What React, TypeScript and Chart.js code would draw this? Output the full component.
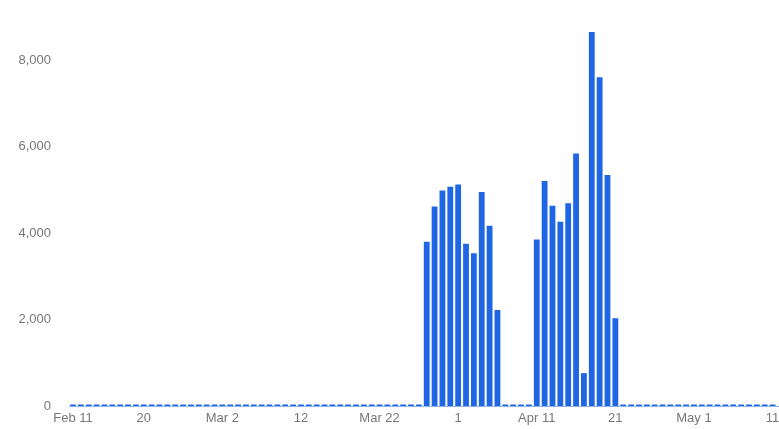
import React, { useEffect, useRef } from "react";
import { Chart, registerables } from "chart.js";

Chart.register(...registerables);

// Day index 0 = Feb 11, index 89 = May 11
const tickDays = [0, 9, 19, 29, 39, 49, 59, 69, 79, 89];
const tickLabels = ["Feb 11", "20", "Mar 2", "12", "Mar 22", "1", "Apr 11", "21", "May 1", "11"];
const yTicks = [0, 2000, 4000, 6000, 8000];

// Daily values Feb 11 .. May 11
const dailyValues = [
  0, 0, 0, 0, 0, 0, 0, 0, 0, 0, // Feb 11-20
  0, 0, 0, 0, 0, 0, 0, 0, 0, 0, // Feb 21-Mar 2
  0, 0, 0, 0, 0, 0, 0, 0, 0, 0, // Mar 3-12
  0, 0, 0, 0, 0, 0, 0, 0, 0, 0, // Mar 13-22
  0, 0, 0, 0, 0, 3800, 4610, 4980, 5070, 5120, // Mar 23-Apr 1
  3750, 3530, 4950, 4170, 2220, 0, 0, 0, 0, 3850, // Apr 2-11
  5200, 4630, 4260, 4690, 5840, 760, 8650, 7600, 5340, 2030, // Apr 12-21
  0, 0, 0, 0, 0, 0, 0, 0, 0, 0, // Apr 22-May 1
  0, 0, 0, 0, 0, 0, 0, 0, 0, 0, // May 2-11
];

export default function App() {
  const ref = useRef<HTMLCanvasElement>(null);
  useEffect(() => {
    if (!ref.current) return;
    const font = { family: "'Liberation Sans', Arial, sans-serif", size: 13 };
    const chart = new Chart(ref.current, {
      type: "bar",
      data: {
        datasets: [
          {
            data: dailyValues.map((v, i) => ({ x: i, y: v })),
            backgroundColor: "#1f66e5",
            borderWidth: 0,
            barPercentage: 0.74,
            categoryPercentage: 1,
            minBarLength: 1.5,
          },
        ],
      },
      options: {
        responsive: false,
        animation: false,
        layout: { padding: { top: 10, left: 0, right: 0, bottom: 0 } },
        plugins: { legend: { display: false }, tooltip: { enabled: false } },
        scales: {
          x: {
            type: "linear",
            offset: false,
            min: -0.51,
            max: 89.82,
            grid: { display: false, drawTicks: false, offset: false },
            border: { display: true, color: "#8fb0e8", width: 1 },
            afterBuildTicks: (s: any) => {
              s.ticks = tickDays.map((v) => ({ value: v }));
            },
            afterFit: (s: any) => {
              s.height = 23;
              s.paddingLeft = 0;
              s.paddingRight = 0;
            },
            ticks: {
              autoSkip: false,
              maxRotation: 0,
              padding: 5,
              color: "#777",
              font,
              callback: (v: any) => {
                const i = tickDays.indexOf(Number(v));
                return i >= 0 ? tickLabels[i] : "";
              },
            },
          },
          y: {
            min: 0,
            max: 9156,
            grid: { display: false, drawTicks: false },
            border: { display: false },
            afterBuildTicks: (s: any) => {
              s.ticks = yTicks.map((v) => ({ value: v }));
            },
            afterFit: (s: any) => {
              s.width = 69;
              s.paddingTop = 0;
              s.paddingBottom = 0;
            },
            ticks: {
              padding: 18,
              color: "#777",
              font,
              callback: (v: any) => Number(v).toLocaleString("en-US"),
            },
          },
        },
      },
    });
    return () => chart.destroy();
  }, []);
  return (
    <div style={{ position: "fixed", left: 0, top: 0, width: 779, height: 429, background: "#fff" }}>
      <canvas ref={ref} width={779} height={429} style={{ display: "block" }} />
    </div>
  );
}
